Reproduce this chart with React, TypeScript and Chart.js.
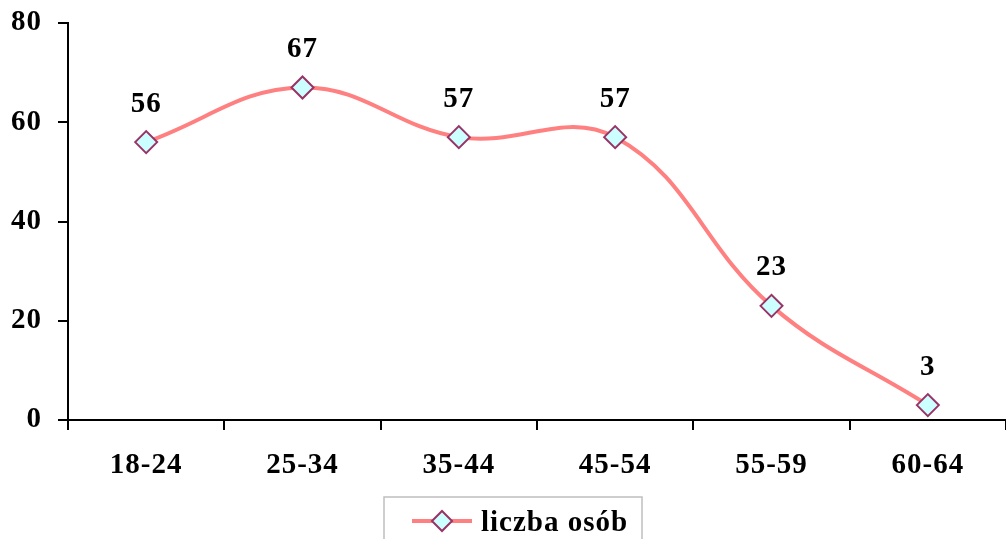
import React, { useEffect, useRef } from "react";
import { Chart, registerables } from "chart.js";

Chart.register(...registerables);

const categories = ["18-24", "25-34", "35-44", "45-54", "55-59", "60-64"];
const values = [56, 67, 57, 57, 23, 3];
const seriesLabel = "liczba osób";
const yTicks = [0, 20, 40, 60, 80];

const FONT = "'Times New Roman', 'Liberation Serif', serif";
const FONT_SIZE = 29;
const LINE_COLOR = "#FF8080";
const MARKER_FILL = "#CCFFFF";
const MARKER_BORDER = "#993366";

const spacingPlugin = {
  id: "letterSpacing",
  beforeDraw(chart: any) {
    try {
      chart.ctx.letterSpacing = "1px";
    } catch (e) {}
  },
};

const dataLabelPlugin = {
  id: "dataLabels",
  afterDatasetsDraw(chart: any) {
    const ctx = chart.ctx;
    const meta = chart.getDatasetMeta(0);
    ctx.save();
    ctx.font = `bold ${FONT_SIZE}px ${FONT}`;
    ctx.fillStyle = "#000";
    ctx.textAlign = "center";
    ctx.textBaseline = "middle";
    meta.data.forEach((pt: any, i: number) => {
      ctx.fillText(String(chart.data.datasets[0].data[i]), pt.x, pt.y - 38);
    });
    ctx.restore();
  },
};

const legendPlugin = {
  id: "boxLegend",
  afterDraw(chart: any) {
    const ctx = chart.ctx;
    const ds = chart.data.datasets[0];
    ctx.save();
    ctx.strokeStyle = "#BFBFBF";
    ctx.lineWidth = 1.5;
    ctx.strokeRect(384, 497, 258, 70);
    ctx.strokeStyle = ds.borderColor;
    ctx.lineWidth = 4;
    ctx.beginPath();
    ctx.moveTo(412, 521);
    ctx.lineTo(472, 521);
    ctx.stroke();
    const cx = 442, cy = 521, r = 10;
    ctx.beginPath();
    ctx.moveTo(cx - r, cy);
    ctx.lineTo(cx, cy - r);
    ctx.lineTo(cx + r, cy);
    ctx.lineTo(cx, cy + r);
    ctx.closePath();
    ctx.fillStyle = ds.pointBackgroundColor;
    ctx.fill();
    ctx.strokeStyle = ds.pointBorderColor;
    ctx.lineWidth = 2;
    ctx.stroke();
    ctx.font = `bold ${FONT_SIZE}px ${FONT}`;
    ctx.fillStyle = "#000";
    ctx.textAlign = "left";
    ctx.textBaseline = "alphabetic";
    ctx.fillText(ds.label, 481, 531);
    ctx.restore();
  },
};

function zeroPadding(scale: any) {
  scale.paddingTop = 0;
  scale.paddingBottom = 0;
  scale.paddingLeft = 0;
  scale.paddingRight = 0;
}

export default function App() {
  const ref = useRef<HTMLCanvasElement>(null);
  useEffect(() => {
    if (!ref.current) return;
    const chart = new Chart(ref.current, {
      type: "line",
      data: {
        labels: categories,
        datasets: [
          {
            label: seriesLabel,
            data: values,
            borderColor: LINE_COLOR,
            borderWidth: 4,
            tension: 0.4,
            pointStyle: "rectRot",
            pointRadius: 11,
            pointHoverRadius: 11,
            pointBackgroundColor: MARKER_FILL,
            pointBorderColor: MARKER_BORDER,
            pointBorderWidth: 2,
            fill: false,
            clip: false,
          },
        ],
      },
      options: {
        responsive: false,
        animation: false,
        layout: { autoPadding: false, padding: { top: 23, right: 0, left: 0, bottom: 0 } },
        plugins: { legend: { display: false }, tooltip: { enabled: false } },
        scales: {
          x: {
            type: "category",
            offset: true,
            grid: {
              offset: true,
              drawOnChartArea: false,
              drawTicks: true,
              tickLength: 10,
              color: "#000",
              lineWidth: 2,
            },
            border: { display: true, color: "#000", width: 2 },
            ticks: {
              color: "#000",
              font: { family: FONT, size: FONT_SIZE, weight: "bold" },
              padding: 18,
              maxRotation: 0,
            },
            afterFit(scale: any) {
              scale.height = 119;
              zeroPadding(scale);
            },
          },
          y: {
            min: 0,
            max: 80,
            afterBuildTicks(scale: any) {
              scale.ticks = yTicks.map((v) => ({ value: v }));
            },
            grid: {
              drawOnChartArea: false,
              drawTicks: true,
              tickLength: 10,
              color: "#000",
              lineWidth: 2,
            },
            border: { display: true, color: "#000", width: 2 },
            ticks: {
              color: "#000",
              font: { family: FONT, size: FONT_SIZE, weight: "bold" },
              padding: 16,
            },
            afterFit(scale: any) {
              scale.width = 68;
              zeroPadding(scale);
            },
          },
        },
      },
      plugins: [spacingPlugin, dataLabelPlugin, legendPlugin],
    });
    return () => chart.destroy();
  }, []);
  return (
    <div style={{ position: "absolute", left: 0, top: 0, width: 1006, height: 539, background: "#fff" }}>
      <canvas ref={ref} width={1006} height={539} style={{ display: "block" }} />
    </div>
  );
}
